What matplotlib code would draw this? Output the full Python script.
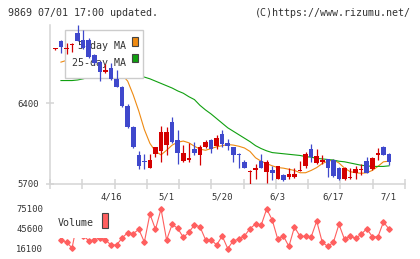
import matplotlib
matplotlib.use("Agg")
import matplotlib.pyplot as plt
import numpy as np
from matplotlib.patches import Rectangle
from matplotlib.transforms import Affine2D, blended_transform_factory

W, H, DPI = 420, 259, 100

# daily candles, slot 0 = leftmost candle
opens = [6865, 6940, 6865, 6900, 7010, 6945, 6945, 6815, 6760, 6665,
         6705, 6605, 6540, 6370, 6195, 5950, 5900, 5840, 5955, 5980,
         6035, 6235, 6080, 5900, 5905, 6000, 5950, 6015, 6080, 6030,
         6135, 6055, 6015, 5955, 5890, 5800, 5815, 5895, 5805, 5815,
         5745, 5775, 5755, 5755, 5810, 5850, 6000, 5880, 5885, 5910,
         5905, 5840, 5740, 5750, 5790, 5820, 5900, 5825, 5945, 6015, 5955]
highs = [6875, 6945, 6920, 6920, 7080, 7035, 6960, 6825, 6765, 6740,
         6745, 6685, 6545, 6395, 6200, 5980, 5955, 5955, 6020, 6200,
         6195, 6280, 6170, 6035, 6050, 6065, 6035, 6080, 6085, 6120,
         6165, 6085, 6020, 5965, 5905, 5815, 5875, 5955, 5905, 5850,
         5855, 5780, 5835, 5835, 5895, 5975, 6045, 6000, 5950, 5915,
         5910, 5845, 5845, 5835, 5850, 5875, 5930, 5930, 6010, 6025, 5965]
lows = [6860, 6835, 6825, 6845, 6935, 6870, 6795, 6740, 6595, 6660,
        6600, 6535, 6365, 6180, 6010, 5825, 5825, 5835, 5930, 5890,
        5950, 6050, 5875, 5890, 5890, 5950, 5860, 6010, 5965, 6005,
        6020, 5990, 5890, 5840, 5835, 5700, 5745, 5835, 5705, 5730,
        5740, 5725, 5745, 5750, 5810, 5840, 5890, 5875, 5875, 5760,
        5760, 5730, 5730, 5745, 5745, 5775, 5790, 5820, 5905, 5945, 5860]
closes = [6870, 6890, 6870, 6905, 6940, 6875, 6800, 6750, 6665, 6690,
          6605, 6540, 6370, 6195, 6015, 5850, 5885, 5905, 6015, 6145,
          6145, 6065, 5970, 5970, 5920, 5970, 6015, 6065, 6000, 6095,
          6045, 6025, 5950, 5945, 5840, 5805, 5835, 5840, 5890, 5795,
          5850, 5730, 5780, 5785, 5815, 5955, 5935, 5940, 5905, 5840,
          5765, 5740, 5840, 5760, 5825, 5825, 5795, 5925, 5965, 5950, 5890]

nan = np.nan
ma5 = [nan, 6755, 6770, 6815, 6850, 6870, 6870, 6855, 6820, 6775,
       6735, 6690, 6645, 6590, 6470, 6330, 6170, 6050, 5980, 5950,
       5990, 6035, 6060, 6070, 6055, 6025, 6000, 5990, 6005, 6020,
       6030, 6040, 6035, 6025, 6010, 5980, 5925, 5895, 5875, 5855,
       5840, 5835, 5825, 5815, 5795, 5795, 5815, 5840, 5875, 5895,
       5905, 5880, 5835, 5805, 5795, 5790, 5795, 5815, 5850, 5890, 5895]
ma25 = [nan, 6595, 6595, 6595, 6600, 6610, 6625, 6630, 6635, 6640,
        6640, 6640, 6640, 6635, 6635, 6630, 6625, 6610, 6590, 6570,
        6550, 6530, 6505, 6485, 6455, 6430, 6380, 6340, 6305, 6265,
        6225, 6185, 6155, 6125, 6095, 6065, 6030, 6005, 5985, 5970,
        5965, 5960, 5955, 5950, 5945, 5935, 5930, 5920, 5915, 5910,
        5905, 5895, 5890, 5880, 5870, 5860, 5855, 5850, 5850, 5850, 5855]
volume = [nan, 29400, 26400, 17600, 58900, 35800, 28400, 29400, 32800, 29400,
          22000, 22000, 32300, 40200, 38700, 45100, 26400, 67700, 45100, 75100,
          29400, 52500, 46600, 33300, 40700, 51500, 49000, 29900, 29900, 22000,
          35300, 16600, 28400, 30400, 35300, 46100, 53000, 51000, 75100, 58900,
          30400, 35300, 20000, 48600, 34800, 34800, 33800, 57400, 25900, 20000,
          25900, 52500, 30400, 34800, 31800, 37700, 46100, 34300, 33800, 55900, 45600]

date_pos = [10, 20, 30, 40, 50, 60]
date_labels = ["4/16", "5/1", "5/20", "6/3", "6/17", "7/1"]
price_ticks = [5700, 6400]
vol_ticks = [16100, 45600, 75100]

RED = "#d40000"
BLUE = "#3f48cc"
ORANGE = "#ee8a12"
GREEN = "#10a010"
VOLC = "#ff5f5f"
LINE = "#d4d4d4"
TEXT = "#333333"
plt.rcParams["font.family"] = "DejaVu Sans Mono"

fig = plt.figure(figsize=(W / DPI, H / DPI), dpi=DPI)
# pixel coordinates measured from the top-left corner
PX = Affine2D().scale(1, -1).translate(0, H)


def rect(left, top, right, bottom):
    return [left / W, 1 - bottom / H, (right - left) / W, (bottom - top) / H]


def box(left, top, right, bottom, **kw):
    # rectangle given in top-left pixel coordinates
    return Rectangle((left, top), right - left, bottom - top, transform=PX, **kw)


ax = fig.add_axes(rect(50, 25, 405, 183.7))
axv = fig.add_axes(rect(50, 204, 405, 254))

x = np.arange(len(opens))
o, h, l, c = (np.array(v, dtype=float) for v in (opens, highs, lows, closes))
col = np.where(c >= o, RED, BLUE)

### PRICE PANEL ###
ax.plot(x, ma5, color=ORANGE, lw=0.8, zorder=2)
ax.plot(x, ma25, color=GREEN, lw=0.8, zorder=2)

# legend box sits under the candles but over the MA lines
ax.add_patch(box(65, 30, 143, 77.5, facecolor="white", edgecolor="#cccccc",
                 lw=1.0, zorder=3))
ax.text(125.5, 46, "5-day MA", transform=PX, ha="right", va="center",
        fontsize=7.2, color=TEXT, zorder=4)
ax.text(125.5, 62.5, "25-day MA", transform=PX, ha="right", va="center",
        fontsize=7.2, color=TEXT, zorder=4)
ax.add_patch(box(131.5, 37.3, 137.7, 45.7, facecolor=ORANGE,
                 edgecolor="#444444", lw=0.8, zorder=4))
ax.add_patch(box(131.5, 54, 137.7, 62.4, facecolor=GREEN,
                 edgecolor="#444444", lw=0.8, zorder=4))

ax.vlines(x, l, h, colors=col, lw=0.9, zorder=5)
ax.bar(x, np.maximum(np.abs(c - o), 9), bottom=np.minimum(o, c), width=0.82,
       color=col, lw=0, zorder=6)

ax.set_xlim(-0.971, 62.88)
ax.set_ylim(5700, 7077)
for side in ("top", "right"):
    ax.spines[side].set_visible(False)
for side in ("left", "bottom"):
    ax.spines[side].set_color(LINE)
    ax.spines[side].set_linewidth(1.1)
ax.set_xticks(np.linspace(-0.971, 62.88, 12))
ax.set_xticklabels([])
ax.set_yticks(price_ticks)
ax.set_yticklabels([str(t) for t in price_ticks])
ax.tick_params(axis="both", direction="inout", color=LINE, width=1.1,
               labelsize=6.4, labelcolor=TEXT)
ax.tick_params(axis="x", length=6.5)
ax.tick_params(axis="y", length=5.8, pad=4.8)
ax.set_facecolor("none")

date_tr = blended_transform_factory(ax.transData, PX)
for pos, lab in zip(date_pos, date_labels):
    ax.text(pos, 197.3, lab, transform=date_tr, ha="center", va="center",
            fontsize=6.4, color=TEXT, clip_on=False)

### VOLUME PANEL ###
axv.plot(x, volume, color=VOLC, lw=0.8, marker="D", ms=2.8, mfc=VOLC,
         mec=VOLC, zorder=2)
axv.add_patch(box(55, 207.5, 112, 237.5, facecolor="white", edgecolor="none",
                  zorder=3))
axv.text(58, 222.5, "Volume", transform=PX, ha="left", va="center",
         fontsize=7.2, color=TEXT, zorder=4)
axv.add_patch(box(101.7, 212.7, 107.7, 228.3, facecolor=VOLC,
                  edgecolor="#444444", lw=0.8, zorder=4))
axv.set_xlim(-0.971, 62.88)
axv.set_ylim(8725, 82475)
for s in axv.spines.values():
    s.set_visible(False)
axv.set_xticks([])
axv.set_yticks(vol_ticks)
axv.set_yticklabels([str(t) for t in vol_ticks])
axv.tick_params(axis="y", length=0, pad=4.8, labelsize=6.4, labelcolor=TEXT)
axv.set_facecolor("none")

fig.text(8.3 / W, 1 - 12.7 / H, "9869 07/01 17:00 updated.", ha="left",
         va="center", fontsize=7.2, color=TEXT)
fig.text(410.5 / W, 1 - 12.7 / H, "(C)https://www.rizumu.net/", ha="right",
         va="center", fontsize=7.2, color=TEXT)

fig.savefig("out.png", dpi=DPI)
